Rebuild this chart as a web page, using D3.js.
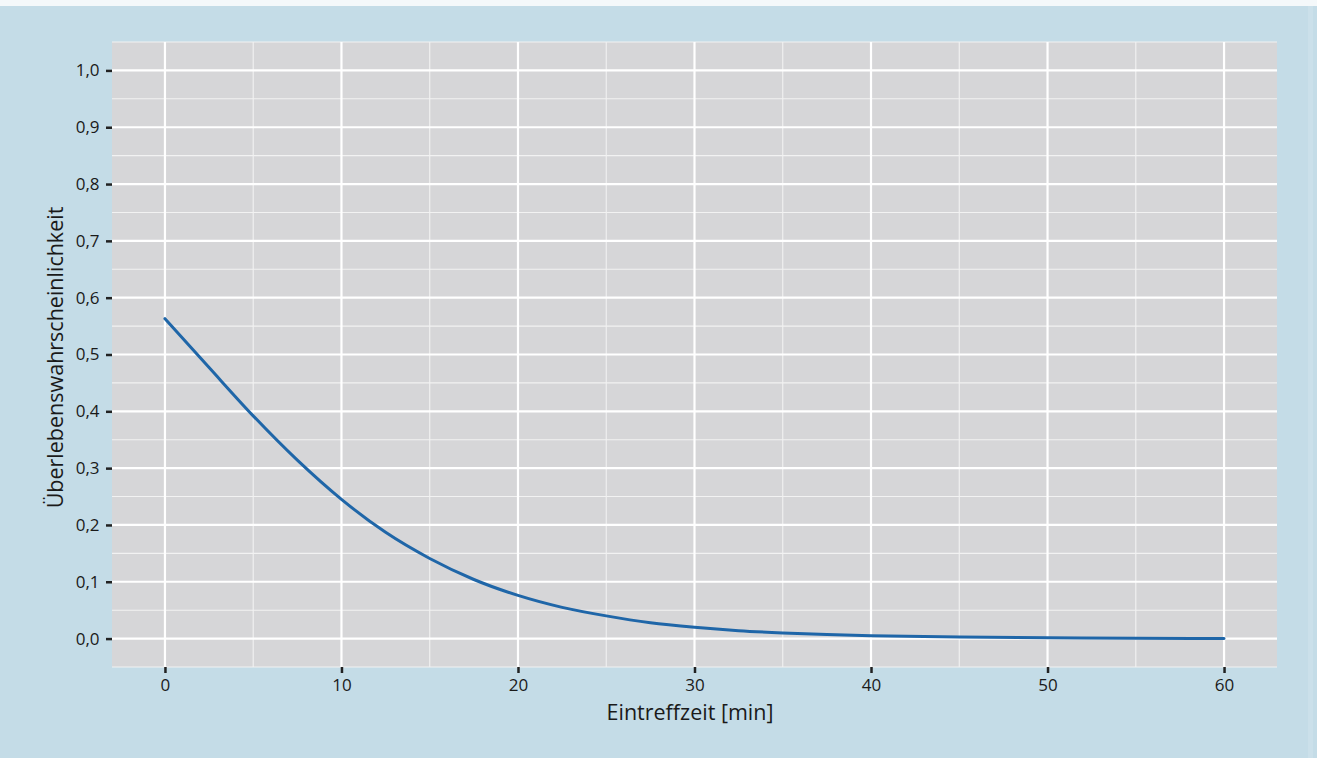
<!DOCTYPE html>
<html><head><meta charset="utf-8">
<script src="https://cdn.jsdelivr.net/npm/d3@7"></script>
<style>
html,body{margin:0;padding:0;background:#c4dce7;}
svg{display:block;}
</style></head>
<body>
<svg id="chart" width="1317" height="758"></svg>
<script>
// Data
const times = [0, 2.5, 5, 7.5, 10, 12.5, 15, 17.5, 20, 22.5, 25, 27.5, 30, 32.5, 35, 37.5, 40, 45, 50, 55, 60];
const survival = [0.563, 0.477, 0.392, 0.314, 0.245, 0.187, 0.141, 0.104, 0.076, 0.055, 0.040, 0.028, 0.020, 0.014, 0.010, 0.007, 0.005, 0.0026, 0.0013, 0.0006, 0.0003];
const xTicks = [0, 10, 20, 30, 40, 50, 60];
const xMinor = [5, 15, 25, 35, 45, 55];
const yTicks = [0, 0.1, 0.2, 0.3, 0.4, 0.5, 0.6, 0.7, 0.8, 0.9, 1.0];
const yMinor = [-0.05, 0.05, 0.15, 0.25, 0.35, 0.45, 0.55, 0.65, 0.75, 0.85, 0.95, 1.05];
const xTitle = "Eintreffzeit [min]";
const yTitle = "Überlebenswahrscheinlichkeit";

const svg = d3.select("#chart");
const W = 1317, H = 758;
const panel = {left: 112, right: 1277, top: 42, bottom: 667};

svg.append("rect").attr("x",0).attr("y",0).attr("width",W).attr("height",H).attr("fill","#c4dce7");
svg.append("rect").attr("x",0).attr("y",0).attr("width",W).attr("height",6).attr("fill","#f4f8fa");
svg.append("rect").attr("x",1308).attr("y",6).attr("width",5).attr("height",H).attr("fill","#cbe0ea");

const x = d3.scaleLinear().domain([-3, 63]).range([panel.left, panel.right]);
const y = d3.scaleLinear().domain([-0.05, 1.05]).range([panel.bottom, panel.top]);

const g = svg.append("g");
g.append("rect").attr("x",panel.left).attr("y",panel.top)
  .attr("width",panel.right-panel.left).attr("height",panel.bottom-panel.top)
  .attr("fill","#d6d6d8");

// minor gridlines
g.selectAll(".ymin").data(yMinor).enter().append("line")
  .attr("x1",panel.left).attr("x2",panel.right)
  .attr("y1",d=>y(d)).attr("y2",d=>y(d))
  .attr("stroke","#f2f2f2").attr("stroke-width",1.1);
g.selectAll(".xmin").data(xMinor).enter().append("line")
  .attr("y1",panel.top).attr("y2",panel.bottom)
  .attr("x1",d=>x(d)).attr("x2",d=>x(d))
  .attr("stroke","#f2f2f2").attr("stroke-width",1.1);
// major gridlines
g.selectAll(".ymaj").data(yTicks).enter().append("line")
  .attr("x1",panel.left).attr("x2",panel.right)
  .attr("y1",d=>y(d)).attr("y2",d=>y(d))
  .attr("stroke","#ffffff").attr("stroke-width",2.2);
g.selectAll(".xmaj").data(xTicks).enter().append("line")
  .attr("y1",panel.top).attr("y2",panel.bottom)
  .attr("x1",d=>x(d)).attr("x2",d=>x(d))
  .attr("stroke","#ffffff").attr("stroke-width",2.2);

// curve
const line = d3.line().x((d,i)=>x(times[i])).y(d=>y(d)).curve(d3.curveMonotoneX);
g.append("path").datum(survival).attr("d",line)
  .attr("fill","none").attr("stroke","#1f66a8").attr("stroke-width",3)
  .attr("stroke-linecap","round");

// axes
const fmt = d3.format(".1f");
const yAxis = d3.axisLeft(y).tickValues(yTicks).tickSize(6).tickPadding(6.5)
  .tickFormat(d=>fmt(d).replace(".", ","));
const xAxis = d3.axisBottom(x).tickValues(xTicks).tickSize(6).tickPadding(6);

const ya = svg.append("g").attr("transform",`translate(${panel.left},0)`).call(yAxis);
const xa = svg.append("g").attr("transform",`translate(0,${panel.bottom})`).call(xAxis);
[ya, xa].forEach(a=>{
  a.select(".domain").remove();
  a.selectAll(".tick line").attr("stroke","#222").attr("stroke-width",2.5);
  a.selectAll(".tick text").attr("fill","#1a1a1a").attr("font-family","'Open Sans', sans-serif")
    .attr("font-size",17).attr("font-weight",500);
});

svg.append("text").attr("x",690).attr("y",720)
  .attr("text-anchor","middle").attr("font-family","'Open Sans', sans-serif")
  .attr("font-size",21.5).attr("fill","#1a1a1a").text(xTitle);

svg.append("text").attr("transform",`translate(63,${(panel.top+panel.bottom)/2 + 3}) rotate(-90)`)
  .attr("text-anchor","middle").attr("font-family","'Open Sans', sans-serif")
  .attr("font-size",21.5).attr("fill","#1a1a1a").text(yTitle);
</script>
</body></html>
